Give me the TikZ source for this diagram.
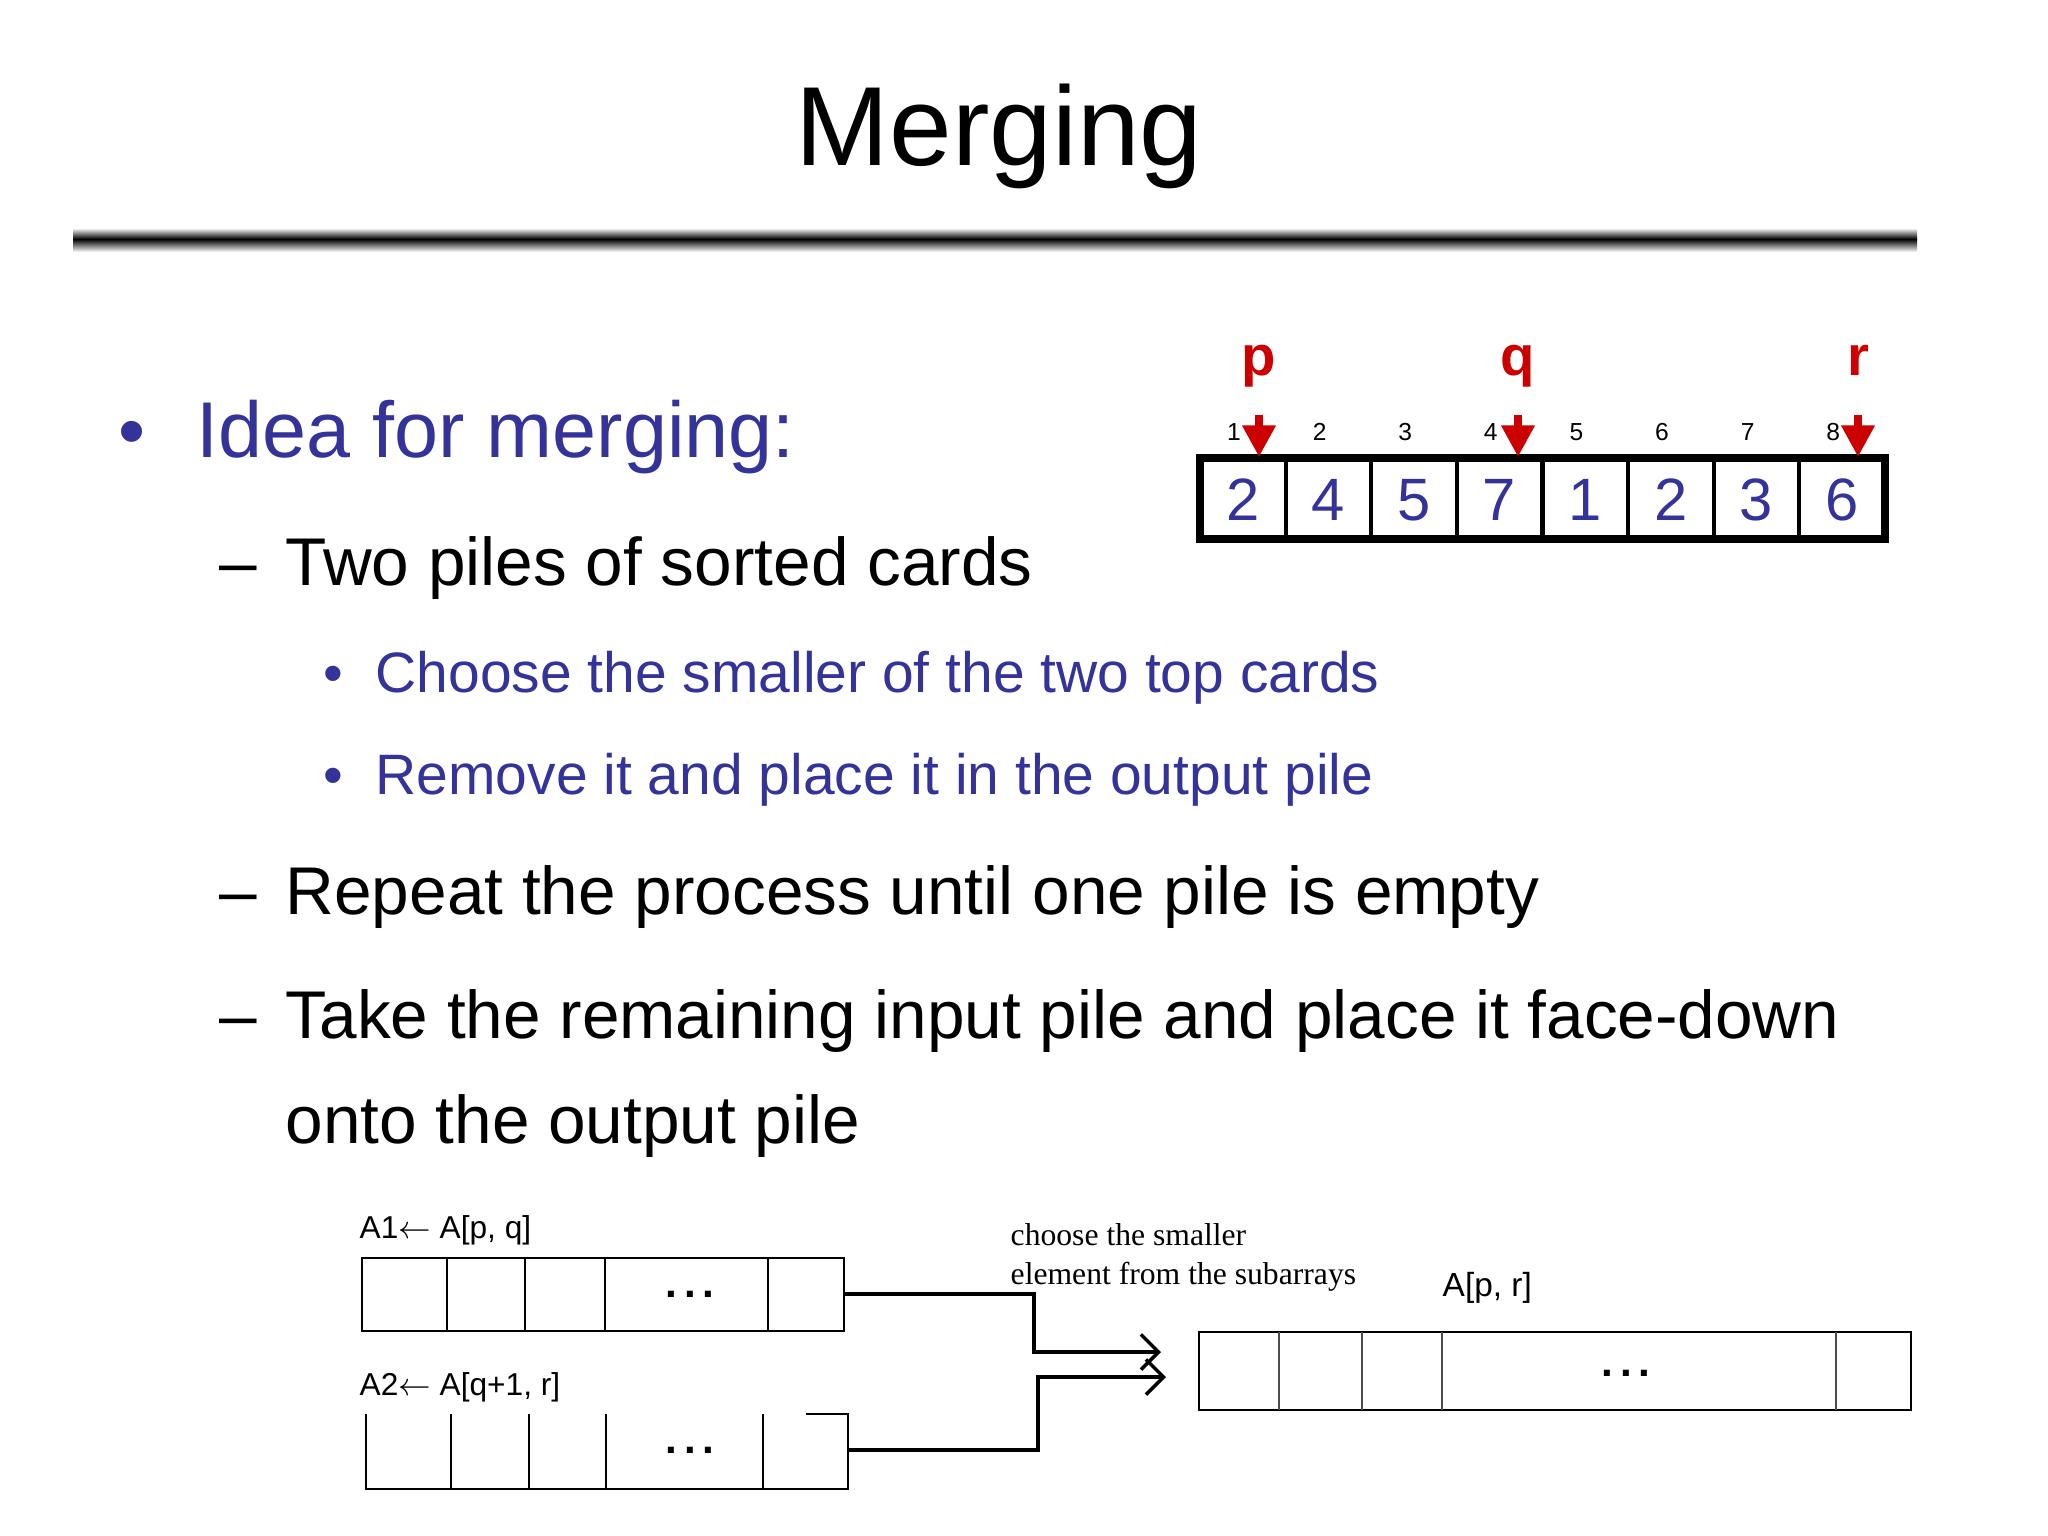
\documentclass[tikz,border=0pt]{standalone}
\usepackage{fontspec}
\setmainfont{Liberation Sans}
\newfontfamily\serifx{Liberation Serif}
\usetikzlibrary{arrows.meta}
\definecolor{slblue}{RGB}{51,51,153}
\definecolor{slred}{RGB}{204,0,0}
\tikzset{
  txt/.style={anchor=base west,inner sep=0pt},
  cell/.style={draw=black,line width=0.6pt},
  conn/.style={draw=black,line width=1pt},
  redarr/.style={draw=slred,line width=2.5pt,-{Triangle[length=9pt,width=9pt]}}
}
\begin{document}
\begin{tikzpicture}[x=0.01cm,y=-0.01cm]
\useasboundingbox (0,0) rectangle (2048,1536);
\fill[white] (0,0) rectangle (2048,1536);
% title
\node[anchor=base,inner sep=0pt] (title) at (999,165) {\fontsize{32}{38}\selectfont Merging};
\shade[top color=white,bottom color=black] (73,228) rectangle (1917,239);
\shade[top color=black,bottom color=white] (73,239) rectangle (1917,252);
% text
\node[txt,text=slblue] (b1) at (118,457) {\fontsize{22}{26}\selectfont •};
\node[txt,text=slblue] (t1) at (196,457) {\fontsize{22.5}{27}\selectfont Idea for merging:};
\node[txt] (d1) at (219,585) {\fontsize{19.2}{23}\selectfont –};
\node[txt] (t2) at (285,585) {\fontsize{19.2}{23}\selectfont Two piles of sorted cards};
\node[txt,text=slblue] (b2) at (323,692) {\fontsize{16}{19}\selectfont •};
\node[txt,text=slblue] (t3) at (375,692) {\fontsize{16.2}{19}\selectfont Choose the smaller of the two top cards};
\node[txt,text=slblue] (b3) at (323,794) {\fontsize{16}{19}\selectfont •};
\node[txt,text=slblue] (t4) at (375,794) {\fontsize{16.2}{19}\selectfont Remove it and place it in the output pile};
\node[txt] (d2) at (219,914) {\fontsize{19.2}{23}\selectfont –};
\node[txt] (t5) at (285,914) {\fontsize{19.2}{23}\selectfont Repeat the process until one pile is empty};
\node[txt] (d3) at (219,1038) {\fontsize{19.2}{23}\selectfont –};
\node[txt] (t6) at (285,1038) {\fontsize{19.2}{23}\selectfont Take the remaining input pile and place it face-down};
\node[txt] (t7) at (285,1143) {\fontsize{19.2}{23}\selectfont onto the output pile};
% array
\draw[line width=2.2pt] (1200,458) rectangle (1885,539);
\foreach \i/\v [count=\k] in {0/2,1/4,2/5,3/7,4/1,5/2,6/3,7/6}{
  \pgfmathsetmacro{\xa}{1200+85.6*\i}
  \ifnum\k>1 \draw[line width=1.2pt] (\xa,458) -- (\xa,539);\fi
  \node[text=slblue,inner sep=0pt] (v\k) at (\xa+42.8,500) {\fontsize{17}{20}\selectfont \v};
  \node[inner sep=0pt,anchor=base] (i\k) at (\xa+34,440) {\fontsize{7}{8}\selectfont \k};
}
\foreach \n/\x/\l in {p/1259/p,q/1518/q,r/1858/r}{
  \node[text=slred,inner sep=0pt,anchor=base] (l\n) at (\x,375) {\fontsize{16}{19}\selectfont\bfseries \l};
  \coordinate (s\n) at (\x,415);
  \coordinate (e\n) at (\x,457);
  \draw[redarr] (s\n) -- (e\n);
}
% bottom
\node[txt] (la1) at (359,1238) {\fontsize{9}{11}\selectfont A1$\leftarrow$ A[p, q]};
\draw[cell] (362,1258) rectangle (844,1331);
\foreach \x in {447,525,605,768} \draw[cell] (\x,1258) -- (\x,1331);
\node[inner sep=0pt] (dots1) at (690,1294) {\fontsize{12}{12}\selectfont\bfseries .\,.\,.};
\node[txt] (la2) at (359,1395) {\fontsize{9}{11}\selectfont A2$\leftarrow$ A[q+1, r]};
\draw[cell] (806,1414) -- (848,1414) -- (848,1489) -- (366,1489) -- (366,1414);
\foreach \x in {451,529,606,763} \draw[cell] (\x,1414) -- (\x,1489);
\node[inner sep=0pt] (dots2) at (690,1450) {\fontsize{12}{12}\selectfont\bfseries .\,.\,.};
\node[txt] (c1) at (1010,1245) {\serifx\fontsize{9}{11}\selectfont choose the smaller};
\node[txt] (c2) at (1010,1284) {\serifx\fontsize{9}{11}\selectfont element from the subarrays};
\node[txt] (lo) at (1442,1296) {\fontsize{9.5}{11}\selectfont A[p, r]};
\draw[cell] (1199,1332) rectangle (1911,1410);
\foreach \x in {1279,1362,1442,1836} \draw[cell,draw=black!70] (\x,1332) -- (\x,1410);
\node[inner sep=0pt] (dots3) at (1626,1373) {\fontsize{12}{12}\selectfont\bfseries .\,.\,.};
\coordinate (o1) at (844,1294);
\coordinate (o2) at (848,1450);
\coordinate (in1) at (1161,1352);
\coordinate (in2) at (1166,1377);
\draw[conn,-{Straight Barb[length=5pt]}] (o1) -- (1034,1294) |- (in1);
\draw[conn,-{Straight Barb[length=5pt]}] (o2) -- (1038,1450) |- (in2);
\end{tikzpicture}
\end{document}
